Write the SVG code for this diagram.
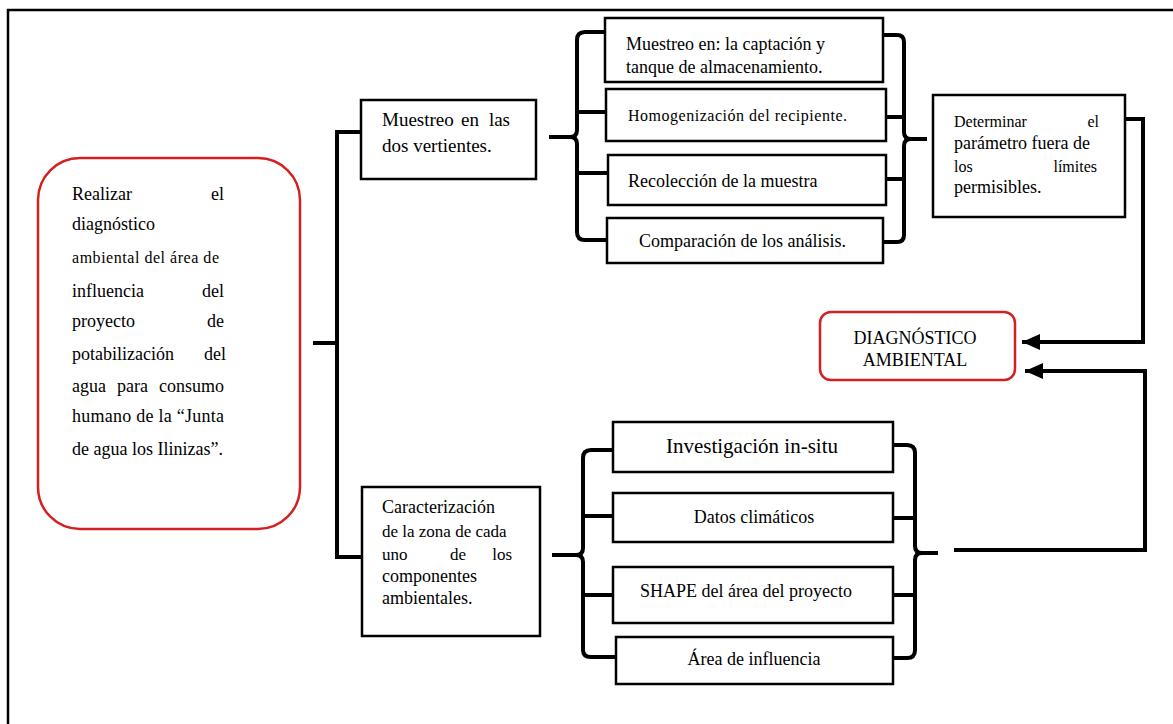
<svg xmlns="http://www.w3.org/2000/svg" width="1173" height="724" viewBox="0 0 1173 724">
<defs>
<marker id="ah" markerUnits="userSpaceOnUse" markerWidth="20" markerHeight="16" refX="18" refY="8" orient="auto">
<path d="M0 0 L18 8 L0 16 Z" fill="#000"/>
</marker>
<style>
text{font-family:"Liberation Serif","Times New Roman",serif;fill:#000}
.box{fill:#fff;stroke:#000;stroke-width:2.5}
.red{fill:#fff;stroke:#d42020;stroke-width:2.5}
.c{fill:none;stroke:#000;stroke-width:4}
.t18{font-size:18px}
.t16{font-size:16px}
.m{text-anchor:middle}
.e{text-anchor:end}
</style>
</defs>
<rect width="1173" height="724" fill="#fff"/>
<path d="M1173 10 H8 V724" fill="none" stroke="#000" stroke-width="2.5"/>

<g id="connectors">
<path class="c" d="M313 343 H337"/>
<path class="c" d="M361 132 H337 V557 H362"/>
<path class="c" d="M605 32 H585 Q577 32 577 40 V130 Q577 137 570 137 H549"/>
<path class="c" d="M549 137 H570 Q577 137 577 144 V232 Q577 240 585 240 H607"/>
<path class="c" d="M577 112 H606 M577 173 H608"/>
<path class="c" d="M883 35 H897 Q904 35 904 42 V132 Q904 139 911 139 H927"/>
<path class="c" d="M927 139 H911 Q904 139 904 146 V235 Q904 242 897 242 H883"/>
<path class="c" d="M886 117 H904 M886 179 H904"/>
<path class="c" d="M613 450 H591 Q583 450 583 458 V548 Q583 555 576 555 H552"/>
<path class="c" d="M552 555 H576 Q583 555 583 562 V650 Q583 657 591 657 H616"/>
<path class="c" d="M583 516 H613 M583 595 H613"/>
<path class="c" d="M893 445 H907 Q915 445 915 453 V546 Q915 553 922 553 H938"/>
<path class="c" d="M938 553 H922 Q915 553 915 560 V650 Q915 658 907 658 H893"/>
<path class="c" d="M893 518 H915 M893 595 H915"/>
<path class="c" d="M1125 119 H1143 V342 H1022" marker-end="url(#ah)"/>
<path class="c" d="M954 550 H1145 V371 H1025" marker-end="url(#ah)"/>
</g>

<g id="main">
<rect class="red" x="38" y="158" width="262" height="371" rx="42"/>
<g class="t18">
<text x="72" y="200">Realizar</text><text class="e" x="224" y="200">el</text>
<text x="72" y="230">diagnóstico</text>
<text x="72" y="263" font-size="16" textLength="147" lengthAdjust="spacing">ambiental del área de</text>
<text x="72" y="297">influencia</text><text class="e" x="224" y="297">del</text>
<text x="72" y="327">proyecto</text><text class="e" x="224" y="327">de</text>
<text x="72" y="360">potabilización</text><text class="e" x="226" y="360">del</text>
<text x="72" y="392">agua</text><text x="117" y="392">para</text><text class="e" x="224" y="392">consumo</text>
<text x="72" y="422" textLength="152" lengthAdjust="spacing">humano de la “Junta</text>
<text x="72" y="455">de agua los Ilinizas”.</text>
</g>
</g>

<g id="muestreo">
<rect class="box" x="361" y="100" width="175" height="79"/>
<text x="382" y="126" font-size="19">Muestreo</text><text x="461" y="126" font-size="19">en</text><text class="e" x="510" y="126" font-size="19">las</text>
<text x="382" y="152" font-size="19">dos vertientes.</text>
</g>

<g id="captacion">
<rect class="box" x="605" y="18" width="278" height="64"/>
<text class="t18" x="626" y="50">Muestreo en: la captación y</text>
<text class="t18" x="626" y="73">tanque de almacenamiento.</text>
</g>

<g id="homogenizacion">
<rect class="box" x="606" y="89" width="280" height="52"/>
<text x="628" y="121" font-size="16" textLength="219" lengthAdjust="spacing">Homogenización del recipiente.</text>
</g>

<g id="recoleccion">
<rect class="box" x="608" y="155" width="278" height="50"/>
<text class="t18" x="628" y="187">Recolección de la muestra</text>
</g>

<g id="comparacion">
<rect class="box" x="607" y="218" width="276" height="45"/>
<text class="t18" x="639" y="247">Comparación de los análisis.</text>
</g>

<g id="determinar">
<rect class="box" x="933" y="95" width="192" height="122"/>
<text x="954" y="127" font-size="16">Determinar</text><text class="e" x="1099" y="127" font-size="16">el</text>
<text class="t18" x="954" y="149">parámetro fuera de</text>
<text x="954" y="172" font-size="16">los</text><text class="e" x="1097" y="172" font-size="16">límites</text>
<text class="t18" x="954" y="193">permisibles.</text>
</g>

<g id="diagnostico">
<rect class="red" x="820" y="312" width="195" height="68" rx="11"/>
<text class="t18 m" x="915" y="344">DIAGNÓSTICO</text>
<text class="t18 m" x="915" y="366">AMBIENTAL</text>
</g>

<g id="caracterizacion">
<rect class="box" x="362" y="487" width="178" height="149"/>
<text class="t18" x="382" y="513">Caracterización</text>
<text x="382" y="537" font-size="17">de la zona de cada</text>
<text x="382" y="560" font-size="17">uno</text><text x="450" y="560" font-size="17">de</text><text class="e" x="512" y="560" font-size="17">los</text>
<text class="t18" x="382" y="582">componentes</text>
<text class="t18" x="382" y="604">ambientales.</text>
</g>

<g id="investigacion">
<rect class="box" x="613" y="422" width="280" height="50"/>
<text class="m" x="752" y="453" font-size="21">Investigación in-situ</text>
</g>

<g id="datos">
<rect class="box" x="613" y="493" width="280" height="49"/>
<text class="t18 m" x="754" y="523">Datos climáticos</text>
</g>

<g id="shape">
<rect class="box" x="613" y="567" width="280" height="56"/>
<text class="t18 m" x="746" y="597">SHAPE del área del proyecto</text>
</g>

<g id="area">
<rect class="box" x="616" y="637" width="277" height="47"/>
<text class="t18 m" x="754" y="665">Área de influencia</text>
</g>
</svg>
